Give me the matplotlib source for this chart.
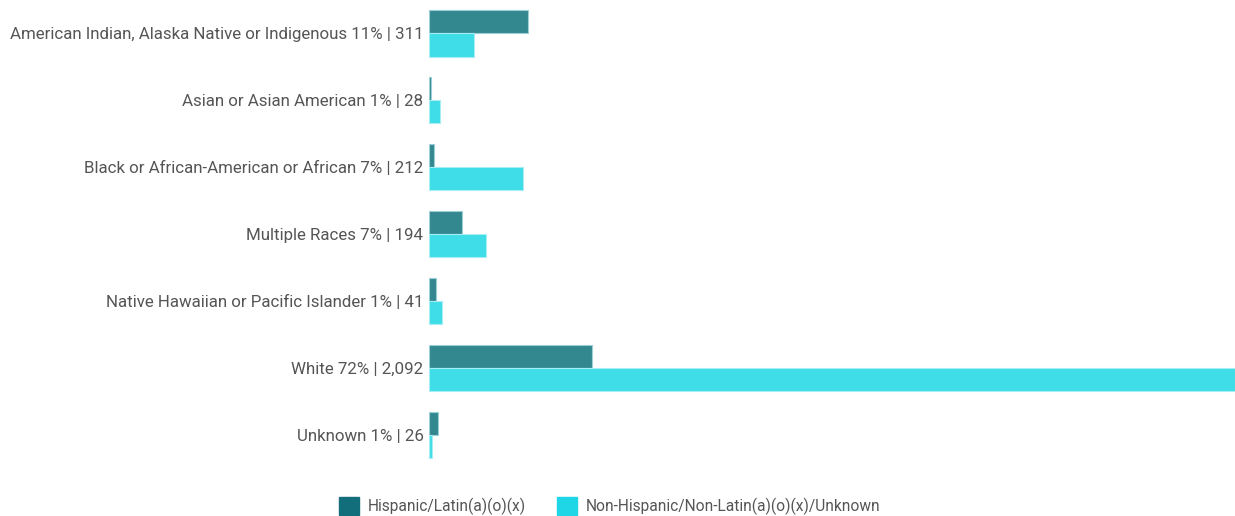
import numpy as np
import matplotlib.pyplot as plt
from matplotlib.patches import Patch

# Race categories with share and total count
races = ['American Indian, Alaska Native or Indigenous', 'Asian or Asian American',
         'Black or African-American or African', 'Multiple Races',
         'Native Hawaiian or Pacific Islander', 'White', 'Unknown']
pcts = [11, 1, 7, 7, 1, 72, 1]
totals = [311, 28, 212, 194, 41, 2092, 26]

# split by ethnicity
hispanic = [213, 5, 10, 72, 14, 352, 19]
non_hispanic = [98, 23, 202, 122, 27, 1740, 7]

HISP_C = '#338890'
NON_C = '#3EDDE8'
plt.rcParams['font.family'] = ['Roboto', 'DejaVu Sans']

fig = plt.figure(figsize=(12.35, 5.16), dpi=100)
ax = fig.add_axes([0.3474, 0.092, 0.6526, 0.908])

y = np.arange(len(races))
h = 0.345
ax.barh(y - h / 2, hispanic, height=h, color=HISP_C, edgecolor='#9ccfd3', linewidth=0.8)
ax.barh(y + h / 2, non_hispanic, height=h, color=NON_C, edgecolor='#a6eef3', linewidth=0.8)

labels = [f'{r} {p}% | {t:,}' for r, p, t in zip(races, pcts, totals)]
ax.set_yticks(y)
ax.set_yticklabels(labels, fontsize=12.2, color='#555555')
ax.tick_params(axis='y', length=0, pad=4)
ax.set_xticks([])
ax.set_xlim(0, max(non_hispanic))
ax.set_ylim(len(races) - 0.5, -0.5)
for s in ax.spines.values():
    s.set_visible(False)

handles = [Patch(color='#126E7A', label='Hispanic/Latin(a)(o)(x)'),
           Patch(color='#1FD6E6', label='Non-Hispanic/Non-Latin(a)(o)(x)/Unknown')]
fig.legend(handles=handles, loc='lower center', bbox_to_anchor=(0.494, -0.025), ncol=2,
           frameon=False, fontsize=11.2, labelcolor='#555555', handlelength=1.25,
           handleheight=1.4, columnspacing=2.0, handletextpad=0.6)

fig.savefig('out.png', dpi=100)
